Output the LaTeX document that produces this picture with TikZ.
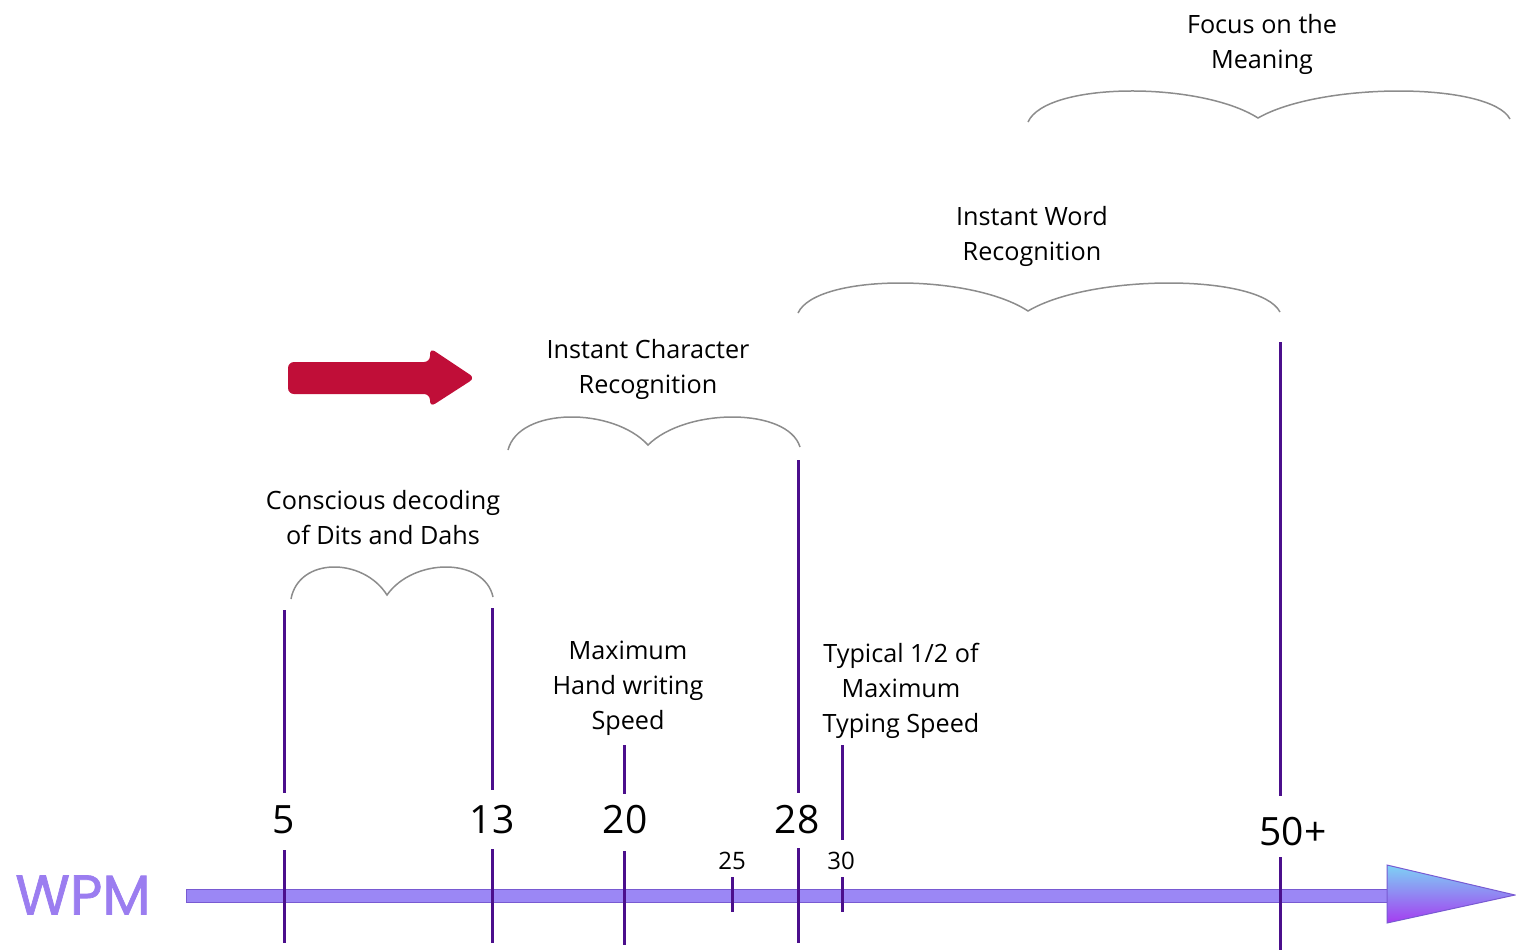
\documentclass[tikz,border=0pt]{standalone}
\usepackage{fontspec}
\setmainfont{Open Sans}
\newfontfamily\wpmfont{Poppins}[FakeBold=1.2]
\definecolor{tickc}{RGB}{75,15,140}
\definecolor{bracec}{RGB}{140,140,140}
\definecolor{barfill}{RGB}{155,135,245}
\definecolor{barborder}{RGB}{120,90,210}
\definecolor{headtop}{RGB}{125,210,245}
\definecolor{headbot}{RGB}{165,60,240}
\definecolor{redc}{RGB}{192,14,56}
\definecolor{wpmc}{RGB}{155,125,240}
\newcommand\mybrace[7]{%
  \pgfmathsetmacro\wa{#3-#1}%
  \pgfmathsetmacro\wb{#5-#3}%
  \pgfmathsetmacro\yca{#7-((#2+#4)/2-#7)/3}%
  \pgfmathsetmacro\ycb{#7-((#4+#6)/2-#7)/3}%
  \draw[bracestyle] (#1,#2) .. controls ({#1+0.08*\wa},\yca) and ({#1+0.75*\wa},\yca) .. (#3,#4)
     .. controls ({#3+0.25*\wb},\ycb) and ({#5-0.08*\wb},\ycb) .. (#5,#6);}
\begin{document}
\begin{tikzpicture}[x=0.5pt,y=-0.5pt,
  lbl/.style={font=\fontsize{12.6}{17.5}\selectfont, align=center, inner sep=0pt},
  num/.style={font=\fontsize{19.5}{20}\selectfont, inner sep=0pt},
  smallnum/.style={font=\fontsize{12}{14}\selectfont, inner sep=0pt},
  tickline/.style={draw=tickc, line width=1.5pt},
  bracestyle/.style={draw=bracec, line width=0.75pt},
]
\useasboundingbox (0,0) rectangle (1516,950);

% axis bar and head
\draw[fill=barfill, draw=barborder, line width=0.5pt] (186,889) rectangle (1390,902);
\shade[top color=headtop, bottom color=headbot, draw=barborder, line width=0.5pt]
  (1387,865) -- (1515,895) -- (1387,923) -- cycle;
\node[font=\wpmfont\fontsize{28}{28}\selectfont, text=wpmc, inner sep=0pt] (wpm) at (83,895) {WPM};

% ticks
\coordinate (a5) at (284,610); \coordinate (b5) at (284,793);
\coordinate (c5) at (284,850); \coordinate (d5) at (284,943);
\coordinate (a13) at (492,608); \coordinate (b13) at (492,790);
\coordinate (c13) at (492,849); \coordinate (d13) at (492,943);
\coordinate (a20) at (624,745); \coordinate (b20) at (624,794);
\coordinate (c20) at (624,851); \coordinate (d20) at (624,945);
\coordinate (c25) at (732,877); \coordinate (d25) at (732,912);
\coordinate (a28) at (798,460); \coordinate (b28) at (798,793);
\coordinate (c28) at (798,848); \coordinate (d28) at (798,943);
\coordinate (a30) at (842,745); \coordinate (b30) at (842,840);
\coordinate (c30) at (842,877); \coordinate (d30) at (842,912);
\coordinate (a50) at (1280,342); \coordinate (b50) at (1280,796);
\coordinate (c50) at (1280,857); \coordinate (d50) at (1280,950);
\foreach \t in {5,13,20,28,30,50} {\draw[tickline] (a\t) -- (b\t); \draw[tickline] (c\t) -- (d\t);}
\draw[tickline] (c25) -- (d25);

% numbers
\node[num] (n5) at (284,820) {5};
\node[num] (n13) at (492,820) {13};
\node[num] (n20) at (625,820) {20};
\node[num] (n28) at (797,820) {28};
\node[num] (n50) at (1293,832) {50+};
\node[smallnum] (n25) at (732,861) {25};
\node[smallnum] (n30) at (841,861) {30};

% labels
\node[lbl] (l1) at (383,518) {Conscious decoding\\of Dits and Dahs};
\node[lbl] (l2) at (648,369) {Instant Character\\Recognition};
\node[lbl] (l3) at (1032,236) {Instant Word\\Recognition};
\node[lbl] (l4) at (1262,44) {Focus on the\\Meaning};
\node[lbl] (l5) at (628,688) {Maximum\\Hand writing\\Speed};
\node[lbl] (l6) at (901,691) {Typical 1/2 of\\Maximum\\Typing Speed};

% braces
\mybrace{291}{599}{387}{595}{493}{597}{567}
\mybrace{508}{450}{648}{445}{800}{447}{417}
\mybrace{798}{313}{1028}{311}{1280}{312}{283}
\mybrace{1028}{122}{1258}{118}{1510}{119}{91}

% red arrow
\fill[redc, rounded corners=3pt] (288,362) -- (430,362) -- (430,348) -- (475,378)
  -- (430,407) -- (430,394) -- (288,394) -- cycle;
\end{tikzpicture}
\end{document}
